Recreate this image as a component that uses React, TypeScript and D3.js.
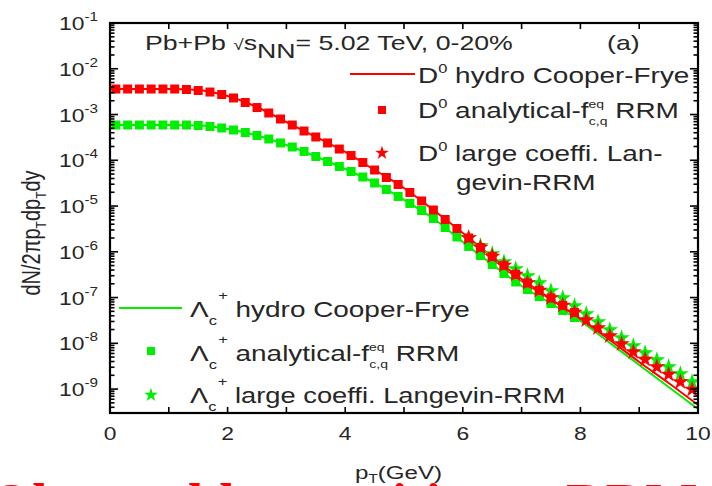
import React from 'react';
import * as d3 from 'd3';

// ---------- data ----------
const ptSquares = [0.1, 0.3, 0.5, 0.7, 0.9, 1.1, 1.3, 1.5, 1.7, 1.9, 2.1, 2.3, 2.5, 2.7, 2.9, 3.1, 3.3, 3.5, 3.7, 3.9,
  4.1, 4.3, 4.5, 4.7, 4.9, 5.1, 5.3, 5.5, 5.7, 5.9, 6.1, 6.3, 6.5, 6.7, 6.9, 7.1, 7.3, 7.5, 7.7, 7.9];
const d0Analytical = [3.61e-3, 3.61e-3, 3.61e-3, 3.61e-3, 3.61e-3, 3.61e-3, 3.52e-3, 3.35e-3, 3.10e-3, 2.74e-3,
  2.30e-3, 1.83e-3, 1.42e-3, 1.08e-3, 7.98e-4, 5.90e-4, 4.36e-4, 3.23e-4, 2.39e-4, 1.76e-4,
  1.27e-4, 8.94e-5, 6.13e-5, 4.20e-5, 2.96e-5, 1.98e-5, 1.29e-5, 8.19e-6, 5.08e-6, 3.23e-6,
  2.00e-6, 1.24e-6, 7.89e-7, 5.02e-7, 3.19e-7, 2.08e-7, 1.43e-7, 9.78e-8, 6.71e-8, 4.72e-8];
const lcAnalytical = [5.90e-4, 5.90e-4, 5.90e-4, 5.90e-4, 5.90e-4, 5.90e-4, 5.90e-4, 5.75e-4, 5.47e-4, 5.08e-4,
  4.59e-4, 4.05e-4, 3.48e-4, 2.92e-4, 2.39e-4, 1.95e-4, 1.56e-4, 1.21e-4, 9.40e-5, 7.31e-5,
  5.69e-5, 4.31e-5, 3.19e-5, 2.30e-5, 1.62e-5, 1.14e-5, 7.99e-6, 5.34e-6, 3.40e-6, 2.11e-6,
  1.31e-6, 8.30e-7, 5.28e-7, 3.36e-7, 2.19e-7, 1.50e-7, 1.05e-7, 7.42e-8, 5.21e-8, 3.67e-8];

const ptStars = [6.1, 6.3, 6.5, 6.7, 6.9, 7.1, 7.3, 7.5, 7.7, 7.9, 8.1, 8.3, 8.5, 8.7, 8.9, 9.1, 9.3, 9.5, 9.7, 9.9];
const d0Langevin = [2.00e-6, 1.24e-6, 7.89e-7, 5.02e-7, 3.19e-7, 2.08e-7, 1.43e-7, 9.78e-8, 6.71e-8, 4.72e-8,
  3.23e-8, 2.16e-8, 1.45e-8, 9.66e-9, 6.46e-9, 4.43e-9, 3.04e-9, 2.08e-9, 1.43e-9, 9.79e-10];
const lcLangevin = [2.00e-6, 1.34e-6, 8.95e-7, 5.98e-7, 4.21e-7, 2.96e-7, 2.08e-7, 1.39e-7, 9.78e-8, 6.54e-8,
  4.37e-8, 2.92e-8, 1.96e-8, 1.31e-8, 8.74e-9, 6.14e-9, 4.32e-9, 3.04e-9, 2.14e-9, 1.43e-9];

const ptHydro = [0, 1, 1.5, 2, 2.5, 3, 3.5, 4, 4.5, 5, 5.5, 6, 6.5, 7, 7.5, 8, 8.5, 9, 9.5, 10];
const d0Hydro = [3.61e-3, 3.61e-3, 3.43e-3, 2.54e-3, 1.46e-3, 6.86e-4, 3.23e-4, 1.52e-4, 6.13e-5, 2.48e-5,
  8.19e-6, 2.58e-6, 7.70e-7, 2.54e-7, 9.30e-8, 3.40e-8, 1.18e-8, 3.91e-9, 1.36e-9, 4.49e-10];
const lcHydro = [5.90e-4, 5.90e-4, 5.75e-4, 4.83e-4, 3.48e-4, 2.16e-4, 1.21e-4, 6.45e-5, 3.19e-5, 1.36e-5,
  5.34e-6, 1.64e-6, 5.28e-7, 1.79e-7, 7.42e-8, 3.07e-8, 1.02e-8, 3.36e-9, 1.11e-9, 3.67e-10];

const xTickLabels = [0, 2, 4, 6, 8, 10];
const xMinorTicks = [1, 2, 3, 4, 5, 6, 7, 8, 9];
const yExponents = [-1, -2, -3, -4, -5, -6, -7, -8, -9];

// ---------- layout ----------
const W = 712;
const H = 486;
const SX = 1.27; // horizontal stretch of the reference text
const FONT = "'Liberation Sans', Arial, Helvetica, sans-serif";
const RED = '#ff0000';
const GREEN = '#00ee00';
const TXT = '#262626';

const x = d3.scaleLinear().domain([0, 10]).range([110, 698]);
const y = d3.scaleLog().domain([3e-10, 0.1]).range([413, 23]);

const squarePath = d3.symbol().type(d3.symbolSquare).size(81)() as string;
const starPath = d3.symbol().type(d3.symbolStar).size(85)() as string;
const legSquarePath = d3.symbol().type(d3.symbolSquare).size(64)() as string;
const legStarPath = d3.symbol().type(d3.symbolStar).size(60)() as string;

const line = d3
  .line<[number, number]>()
  .x((d) => x(d[0]))
  .y((d) => y(d[1]))
  .curve(d3.curveMonotoneX);

function T(props: any) {
  const { x: tx, y: ty, size, anchor = 'start', fill = TXT, rot, children, weight, family } = props;
  return (
    <text
      transform={`translate(${tx},${ty}) scale(${SX},1)${rot ? ` rotate(${rot})` : ''}`}
      fontSize={size}
      fontFamily={family || FONT}
      fontWeight={weight}
      textAnchor={anchor}
      fill={fill}
    >
      {children}
    </text>
  );
}

export default function App() {
  const [x0, x1] = x.range();
  const [yb, yt] = y.range();
  const yTicks = y.ticks().filter((t) => t >= 3e-10 && t <= 0.1);
  const isMajor = (t: number) => Math.abs(Math.log10(t) - Math.round(Math.log10(t))) < 1e-6;

  const zip = (a: number[], b: number[]) => a.map((v, i) => [v, b[i]] as [number, number]);

  return (
    <div style={{ position: 'absolute', left: 0, top: 0, width: W, height: H, background: '#fff' }}>
      <svg width={W} height={H} viewBox={`0 0 ${W} ${H}`} style={{ display: 'block' }}>
        <defs>
          <clipPath id="plotClip">
            <rect x={x0} y={yt} width={x1 - x0} height={yb - yt} />
          </clipPath>
        </defs>
        <rect x={0} y={0} width={W} height={H} fill="#fff" />

        {/* data */}
        <g clipPath="url(#plotClip)">
          <path d={line(zip(ptHydro, lcHydro)) as string} fill="none" stroke={GREEN} strokeWidth={2} />
          <path d={line(zip(ptHydro, d0Hydro)) as string} fill="none" stroke={RED} strokeWidth={2} />
          {ptSquares.map((p, i) => (
            <path key={'gs' + i} d={squarePath} transform={`translate(${x(p)},${y(lcAnalytical[i])})`} fill={GREEN} />
          ))}
          {ptStars.map((p, i) => (
            <path key={'gt' + i} d={starPath} transform={`translate(${x(p)},${y(lcLangevin[i])})`} fill={GREEN} />
          ))}
          {ptSquares.map((p, i) => (
            <path key={'rs' + i} d={squarePath} transform={`translate(${x(p)},${y(d0Analytical[i])})`} fill={RED} />
          ))}
          {ptStars.map((p, i) => (
            <path key={'rt' + i} d={starPath} transform={`translate(${x(p)},${y(d0Langevin[i])})`} fill={RED} />
          ))}
        </g>

        {/* axes frame and ticks */}
        <g stroke="#000" strokeWidth={1.6}>
          {yTicks.map((t, i) => {
            const len = isMajor(t) ? 8 : 4.5;
            const yy = y(t);
            return (
              <g key={'yt' + i}>
                <line x1={x0} x2={x0 + len} y1={yy} y2={yy} />
                <line x1={x1} x2={x1 - len} y1={yy} y2={yy} />
              </g>
            );
          })}
          {xMinorTicks.map((t) => (
            <g key={'xt' + t}>
              <line x1={x(t)} x2={x(t)} y1={yb} y2={yb - 6} />
              <line x1={x(t)} x2={x(t)} y1={yt} y2={yt + 6} />
            </g>
          ))}
        </g>
        <rect x={x0} y={yt} width={x1 - x0} height={yb - yt} fill="none" stroke="#000" strokeWidth={2.2} />

        {/* y tick labels */}
        {yExponents.map((e) => (
          <T key={'yl' + e} x={98} y={y(Math.pow(10, e)) + 7} size={18} anchor="end">
            10<tspan fontSize={12} dy={-9}>{String(e)}</tspan>
          </T>
        ))}
        {/* x tick labels */}
        {xTickLabels.map((v) => (
          <T key={'xl' + v} x={x(v)} y={440} size={18} anchor="middle">
            {String(v)}
          </T>
        ))}

        {/* axis titles */}
        <T x={40} y={233} size={20} anchor="middle" rot={-90}>
          {'dN/2πp'}
          <tspan fontSize={12} dy={5}>T</tspan>
          <tspan dy={-5}>dp</tspan>
          <tspan fontSize={12} dy={5}>T</tspan>
          <tspan dy={-5}>dy</tspan>
        </T>
        <T x={355} y={479} size={19}>
          p<tspan fontSize={12} dy={4}>T</tspan>
          <tspan dy={-4}>(GeV)</tspan>
        </T>

        {/* header */}
        <T x={145} y={50} size={21}>
          {'Pb+Pb '}
          <tspan fontSize={15}>√</tspan>
          s<tspan dy={8}>NN</tspan>
          <tspan dy={-8}>= 5.02 TeV, 0-20%</tspan>
        </T>
        <T x={607} y={50} size={21}>
          (a)
        </T>

        {/* D0 legend */}
        <line x1={350} x2={415} y1={74} y2={74} stroke={RED} strokeWidth={2} />
        <T x={418} y={83} size={22}>
          D<tspan fontSize={13} dy={-10}>0</tspan>
          <tspan dy={10}>{' hydro Cooper-Frye'}</tspan>
        </T>
        <path d={legSquarePath} transform="translate(382,110)" fill={RED} />
        <T x={418} y={118} size={22}>
          D<tspan fontSize={13} dy={-10}>0</tspan>
          <tspan dy={10}>{' analytical-f'}</tspan>
          <tspan fontSize={11} dy={-10}>eq</tspan>
          <tspan fontSize={11} dx={-12} dy={17}>c,q</tspan>
          <tspan dy={-7}>{' RRM'}</tspan>
        </T>
        <path d={legStarPath} transform="translate(382,153)" fill={RED} />
        <T x={418} y={161} size={22}>
          D<tspan fontSize={13} dy={-10}>0</tspan>
          <tspan dy={10}>{' large coeffi. Lan-'}</tspan>
        </T>
        <T x={456} y={190} size={22}>
          gevin-RRM
        </T>

        {/* Lambda_c legend */}
        <line x1={119} x2={182} y1={308} y2={308} stroke={GREEN} strokeWidth={2} />
        <T x={190} y={317} size={22}>
          Λ<tspan fontSize={13} dy={8}>c</tspan>
          <tspan fontSize={13} dx={1} dy={-25}>+</tspan>
          <tspan dy={17}>{' hydro Cooper-Frye'}</tspan>
        </T>
        <path d={legSquarePath} transform="translate(151,351)" fill={GREEN} />
        <T x={190} y={361} size={22}>
          Λ<tspan fontSize={13} dy={8}>c</tspan>
          <tspan fontSize={13} dx={1} dy={-25}>+</tspan>
          <tspan dy={17}>{' analytical-f'}</tspan>
          <tspan fontSize={11} dy={-10}>eq</tspan>
          <tspan fontSize={11} dx={-12} dy={17}>c,q</tspan>
          <tspan dy={-7}>{' RRM'}</tspan>
        </T>
        <path d={legStarPath} transform="translate(151,395)" fill={GREEN} />
        <T x={190} y={403} size={21.5}>
          Λ<tspan fontSize={13} dy={8}>c</tspan>
          <tspan fontSize={13} dx={1} dy={-25}>+</tspan>
          <tspan dy={17}>{' large coeffi. Langevin-RRM'}</tspan>
        </T>

        {/* cut-off red caption at the bottom */}
        <text
          x={-10}
          y={521}
          fontSize={55}
          fontWeight="bold"
          fontFamily="'Liberation Serif', 'Times New Roman', serif"
          fill={RED}
        >
          Observables sensitive to RRM
        </text>
      </svg>
    </div>
  );
}
